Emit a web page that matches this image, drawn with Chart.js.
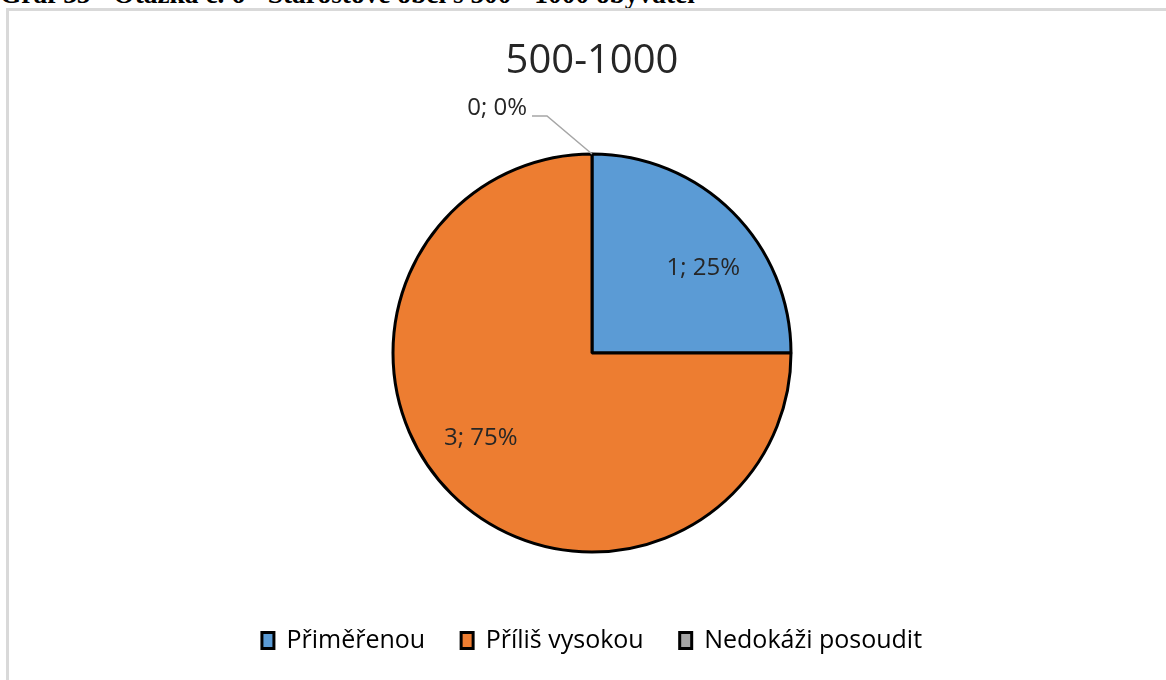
<!DOCTYPE html>
<html>
<head>
<meta charset="utf-8">
<script src="https://cdn.jsdelivr.net/npm/chart.js@4.4.1/dist/chart.umd.min.js"></script>
<style>
  html, body { margin: 0; padding: 0; background: #fff; overflow: hidden; }
  #caption {
    position: absolute; left: 0; top: -21px; white-space: nowrap;
    font: bold 27.4px "Liberation Serif", "DejaVu Serif", serif; color: #000;
  }
  #frame {
    position: absolute; left: 6px; top: 8px; width: 2000px; height: 2000px;
    border: 3px solid #d9d9d9; box-sizing: border-box;
  }
  #wrap { position: absolute; left: 0; top: 0; width: 1166px; height: 680px; }
</style>
</head>
<body>
<div id="caption">Graf 35 - Otázka č. 6 - Starostové obcí s 500 - 1000 obyvatel</div>
<div id="frame"></div>
<div id="wrap"><canvas id="chart" width="1166" height="680"></canvas></div>
<script>
// data
const categories = ['Přiměřenou', 'Příliš vysokou', 'Nedokáži posoudit'];
const counts = [1, 3, 0];
const sliceColors = ['#5b9bd5', '#ed7d31', '#a5a5a5'];
const chartTitle = '500-1000';

const total = counts.reduce((a, b) => a + b, 0);

// "n; p%" labels, drawn at each arc; zero slices get a leader line outside
const sliceLabels = {
    id: 'sliceLabels',
    afterDatasetsDraw(chart) {
        const ctx = chart.ctx;
        const meta = chart.getDatasetMeta(0);
        ctx.save();
        ctx.font = '24px "Open Sans"';
        ctx.fillStyle = '#262626';
        ctx.textBaseline = 'middle';
        meta.data.forEach((arc, i) => {
            const v = counts[i];
            const txt = v + '; ' + Math.round(v / total * 100) + '%';
            const p = arc.getProps(['x', 'y', 'startAngle', 'endAngle', 'outerRadius'], true);
            const mid = (p.startAngle + p.endAngle) / 2;
            if (v === 0) {
                const ex = p.x + Math.cos(mid) * p.outerRadius;
                const ey = p.y + Math.sin(mid) * p.outerRadius;
                ctx.strokeStyle = '#a6a6a6';
                ctx.lineWidth = 1.5;
                ctx.beginPath();
                ctx.moveTo(ex, ey);
                ctx.lineTo(ex - 45, ey - 38);
                ctx.lineTo(ex - 60, ey - 38);
                ctx.stroke();
                ctx.textAlign = 'right';
                ctx.fillText(txt, ex - 65, ey - 46);
            } else {
                const r = p.outerRadius * 0.7;
                ctx.textAlign = 'center';
                ctx.fillText(txt, p.x + Math.cos(mid) * r * 1.13, p.y + Math.sin(mid) * r * 0.86);
            }
        });
        ctx.restore();
    }
};

new Chart(document.getElementById('chart'), {
    type: 'pie',
    data: {
        labels: categories,
        datasets: [{
            data: counts,
            backgroundColor: sliceColors,
            borderColor: '#000',
            borderWidth: 3
        }]
    },
    options: {
        responsive: false,
        animation: false,
        radius: 199,
        layout: { padding: { top: 30, left: 18, right: 0, bottom: 17 } },
        plugins: {
            tooltip: { enabled: false },
            title: {
                display: true,
                text: chartTitle,
                color: '#262626',
                font: { family: 'Open Sans', size: 40, weight: 'normal' },
                padding: { top: 8, bottom: 28 }
            },
            legend: {
                position: 'bottom',
                labels: {
                    color: '#262626',
                    font: { family: 'Open Sans', size: 25 },
                    boxWidth: 12,
                    boxHeight: 16,
                    padding: 36,
                    generateLabels(chart) {
                        return categories.map((c, i) => ({
                            text: c,
                            fillStyle: sliceColors[i],
                            strokeStyle: '#000',
                            lineWidth: 3,
                            index: i,
                            hidden: false
                        }));
                    }
                }
            }
        }
    },
    plugins: [sliceLabels]
});
</script>
</body>
</html>
